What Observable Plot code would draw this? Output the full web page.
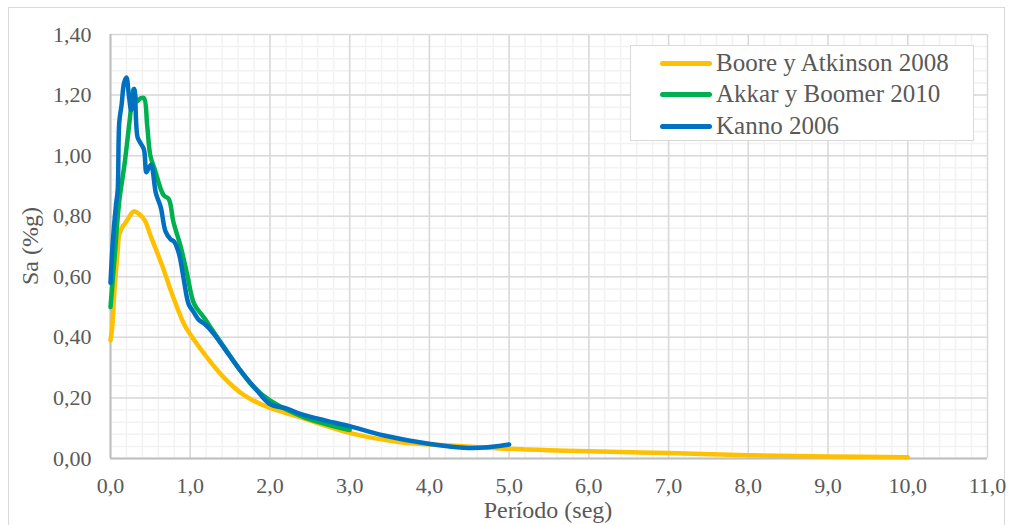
<!DOCTYPE html>
<html>
<head>
<meta charset="utf-8">
<script src="https://cdn.jsdelivr.net/npm/d3@7"></script>
<script src="https://cdn.jsdelivr.net/npm/@observablehq/plot@0.6"></script>
<style>
  html, body { margin: 0; padding: 0; background: #fff; }
  #wrap { position: relative; width: 1014px; height: 525px; overflow: hidden; font-family: "Liberation Serif", Tinos, "Times New Roman", serif; }
  #frame { position: absolute; left: 8px; top: 7px; width: 997px; height: 540px; border: 1.5px solid #d9d9d9; box-sizing: border-box; }
  #chart { position: absolute; left: 0; top: 0; }
  #legend { position: absolute; left: 630px; top: 45px; width: 344px; height: 96px; background: #fff; border: 1.5px solid #d9d9d9; box-sizing: border-box; }
  .row { position: absolute; left: 29px; height: 30px; display: flex; align-items: center; font-size: 25px; color: #595959; white-space: nowrap; }
  .sw { width: 52px; height: 5px; border-radius: 3px; margin-right: 4px; }
</style>
</head>
<body>
<div id="wrap">
  <div id="frame"></div>
  <div id="chart"></div>
  <div id="legend"></div>
</div>
<script>
// ---- Data ----
const seriesNames = ["Boore y Atkinson 2008", "Akkar y Boomer 2010", "Kanno 2006"];
const seriesColors = ["#FFC000", "#00B050", "#0070C0"];

const booreT = [0.0, 0.02, 0.05, 0.09, 0.11, 0.15, 0.18, 0.24, 0.29, 0.36, 0.43, 0.51, 0.64, 0.77, 0.92, 1.0, 1.21, 1.42, 1.67, 1.97, 2.38, 3.01, 3.64, 4.27, 4.89, 5.5, 6.0, 7.0, 8.0, 9.0, 10.0];
const booreSa = [0.39, 0.43, 0.555, 0.686, 0.74, 0.765, 0.775, 0.80, 0.816, 0.807, 0.786, 0.73, 0.643, 0.545, 0.445, 0.41, 0.334, 0.268, 0.21, 0.17, 0.136, 0.084, 0.054, 0.043, 0.033, 0.027, 0.024, 0.018, 0.011, 0.007, 0.004];

const akkarT = [0.0, 0.05, 0.11, 0.18, 0.24, 0.29, 0.33, 0.38, 0.42, 0.46, 0.50, 0.56, 0.63, 0.67, 0.73, 0.79, 0.88, 0.96, 1.05, 1.17, 1.34, 1.63, 1.80, 2.01, 2.43, 3.0];
const akkarSa = [0.50, 0.66, 0.85, 0.98, 1.115, 1.22, 1.18, 1.19, 1.19, 1.10, 1.00, 0.95, 0.89, 0.868, 0.857, 0.78, 0.70, 0.61, 0.51, 0.466, 0.40, 0.29, 0.235, 0.19, 0.136, 0.094];

const kannoT = [0.0, 0.03, 0.07, 0.09, 0.11, 0.14, 0.17, 0.20, 0.23, 0.26, 0.30, 0.34, 0.38, 0.42, 0.45, 0.48, 0.51, 0.57, 0.63, 0.69, 0.75, 0.80, 0.86, 0.92, 0.98, 1.04, 1.10, 1.20, 1.30, 1.42, 1.63, 1.84, 2.0, 2.22, 2.38, 2.7, 3.01, 3.43, 4.01, 4.48, 4.73, 5.0];
const kannoSa = [0.58, 0.72, 0.84, 0.885, 1.11, 1.17, 1.24, 1.258, 1.20, 1.15, 1.22, 1.06, 1.04, 1.02, 0.945, 0.96, 0.97, 0.875, 0.83, 0.75, 0.725, 0.715, 0.675, 0.59, 0.51, 0.485, 0.46, 0.44, 0.41, 0.367, 0.29, 0.224, 0.18, 0.164, 0.147, 0.125, 0.106, 0.076, 0.048, 0.035, 0.037, 0.046];

const xTicks = [0, 1, 2, 3, 4, 5, 6, 7, 8, 9, 10, 11];
const yTicks = [0, 0.2, 0.4, 0.6, 0.8, 1.0, 1.2, 1.4];
const xMinor = d3.range(0, 55).map(i => i * 0.2);
const yMinor = d3.range(0, 35).map(i => i * 0.04);

const xLabel = "Período (seg)";
const yLabel = "Sa (%g)";

// ---- Build ----
const FONT = "'Liberation Serif', Tinos, 'Times New Roman', serif";
const toRows = (T, S, name) => T.map((t, i) => ({T: t, Sa: S[i], name}));
const boore = toRows(booreT, booreSa, seriesNames[0]);
const akkar = toRows(akkarT, akkarSa, seriesNames[1]);
const kanno = toRows(kannoT, kannoSa, seriesNames[2]);

const fmtX = d => d3.format(".1f")(d).replace(".", ",");
const fmtY = d => d3.format(".2f")(d).replace(".", ",");

const chart = Plot.plot({
  width: 1014,
  height: 525,
  marginLeft: 110,
  marginRight: 27,
  marginTop: 34,
  marginBottom: 67,
  style: {fontFamily: FONT, fontSize: "22px", color: "#595959", background: "transparent", overflow: "visible"},
  x: {domain: [0, 11]},
  y: {domain: [0, 1.4]},
  marks: [
    Plot.ruleX(xMinor, {stroke: "#f2f2f2", strokeWidth: 1.5}),
    Plot.ruleY(yMinor, {stroke: "#f2f2f2", strokeWidth: 1.5}),
    Plot.ruleX(xTicks, {stroke: "#d9d9d9", strokeWidth: 1.5}),
    Plot.ruleY(yTicks, {stroke: "#d9d9d9", strokeWidth: 1.5}),
    Plot.ruleX([0], {stroke: "#bfbfbf", strokeWidth: 2}),
    Plot.ruleY([0], {stroke: "#bfbfbf", strokeWidth: 2}),
    Plot.axisX({ticks: xTicks, tickFormat: fmtX, tickSize: 0, tickPadding: 19, label: null, fontSize: 22}),
    Plot.axisY({ticks: yTicks, tickFormat: fmtY, tickSize: 0, tickPadding: 19, label: null, fontSize: 22}),
    Plot.line(boore, {x: "T", y: "Sa", stroke: seriesColors[0], strokeWidth: 4.5, curve: "catmull-rom"}),
    Plot.line(akkar, {x: "T", y: "Sa", stroke: seriesColors[1], strokeWidth: 4.5, curve: "catmull-rom"}),
    Plot.line(kanno, {x: "T", y: "Sa", stroke: seriesColors[2], strokeWidth: 4.5, curve: "catmull-rom"})
  ]
});
document.getElementById("chart").appendChild(chart);

// axis titles as SVG text
const svg = d3.select(chart);
svg.append("text").attr("x", 548).attr("y", 518).attr("text-anchor", "middle")
  .attr("fill", "#595959").style("font-size", "24px").style("font-family", FONT).text(xLabel);
svg.append("text").attr("transform", "translate(38,246) rotate(-90)").attr("text-anchor", "middle")
  .attr("fill", "#595959").style("font-size", "24px").style("font-family", FONT).text(yLabel);

// legend
const leg = document.getElementById("legend");
const rowTops = [2, 33, 65];
seriesNames.forEach((n, i) => {
  const r = document.createElement("div");
  r.className = "row";
  r.style.top = rowTops[i] + "px";
  const sw = document.createElement("div");
  sw.className = "sw";
  sw.style.background = seriesColors[i];
  const t = document.createElement("span");
  t.textContent = n;
  r.appendChild(sw); r.appendChild(t);
  leg.appendChild(r);
});
</script>
</body>
</html>
